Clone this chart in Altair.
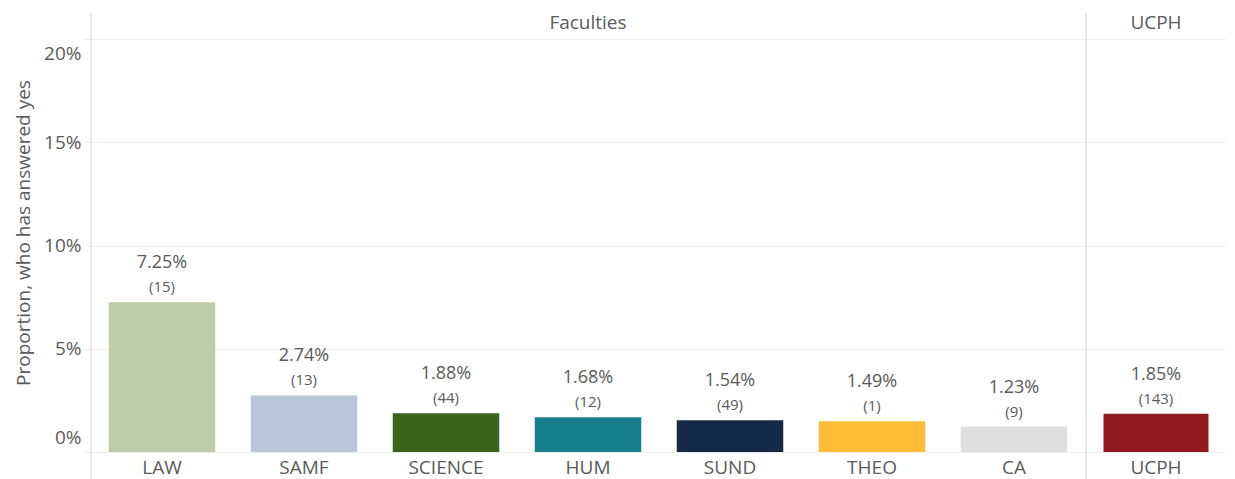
import altair as alt
import pandas as pd

# ---- data ----
faculties = ["LAW", "SAMF", "SCIENCE", "HUM", "SUND", "THEO", "CA"]
faculty_share = [0.0725, 0.0274, 0.0188, 0.0168, 0.0154, 0.0149, 0.0123]
faculty_count = [15, 13, 44, 12, 49, 1, 9]
faculty_colors = ["#BFCAA8", "#B8C6D8", "#3A631C", "#187F8C", "#142848", "#FFBC35", "#DFDEDF"]

total_group = ["UCPH"]
total_share = [0.0185]
total_count = [143]
total_colors = ["#901A1E"]

y_ticks = [0, 0.05, 0.10, 0.15, 0.20]
panel_titles = ["Faculties", "UCPH"]
y_title = "Proportion, who has answered yes"

# ---- style ----
FONT = "Open Sans"
TEXT = "#5a5a5a"
GRID = "#eeeeee"
LINE = "#d2d2d2"
H = 439
STEP = 142
W_FAC = STEP * len(faculties)
W_TOT = 140
Y_MAX = 0.20 * 439 / 413

df_fac = pd.DataFrame({
    "group": faculties,
    "share": faculty_share,
    "count_label": [f"({c})" for c in faculty_count],
    "color": faculty_colors,
})
df_tot = pd.DataFrame({
    "group": total_group,
    "share": total_share,
    "count_label": [f"({c})" for c in total_count],
    "color": total_colors,
})

yscale = alt.Scale(domain=[0, Y_MAX], nice=False, zero=True)


def panel(df, order, width, title, show_axis):
    xaxis = alt.Axis(title=None, labelAngle=0, ticks=False, domain=False, labelPadding=6,
                     labelFontSize=19, labelColor=TEXT, labelFont=FONT)
    if show_axis:
        yaxis = alt.Axis(values=y_ticks, format=".0%", title=y_title, grid=True, gridColor=GRID,
                         tickColor=GRID, tickSize=7, domain=False, labelPadding=3,
                         labelFontSize=19, labelColor=TEXT, labelFont=FONT,
                         labelFlush=30, labelFlushOffset=-5,
                         titleFontSize=19, titleColor=TEXT, titleFont=FONT,
                         titleFontWeight="normal", titlePadding=10)
    else:
        yaxis = alt.Axis(values=y_ticks, title=None, grid=True, gridColor=GRID, ticks=False,
                         labels=False, domain=False)
    base = alt.Chart(df).encode(
        x=alt.X("group:N", sort=order,
                scale=alt.Scale(paddingInner=0.25, paddingOuter=0.125), axis=xaxis),
        y=alt.Y("share:Q", scale=yscale, axis=yaxis),
    )
    bars = base.mark_bar().encode(color=alt.Color("color:N", scale=None, legend=None))
    pct = base.mark_text(dy=-39, fontSize=18, color=TEXT, font=FONT).encode(
        text=alt.Text("share:Q", format=".2%"))
    cnt = base.mark_text(dy=-15, fontSize=15, color=TEXT, font=FONT).encode(
        text="count_label:N")
    header = alt.Chart(pd.DataFrame({"h": [title]})).mark_text(
        fontSize=19, color=TEXT, font=FONT, baseline="middle").encode(
        text="h:N", x=alt.value(width / 2), y=alt.value(10))
    vline = alt.Chart(pd.DataFrame({"h": [0]})).mark_rule(color=LINE, strokeWidth=1).encode(
        x=alt.value(0), y=alt.value(0), y2=alt.value(H + 40))
    return alt.layer(bars, pct, cnt, header, vline).properties(width=width, height=H)


left = panel(df_fac, faculties, W_FAC, panel_titles[0], True)
right = panel(df_tot, total_group, W_TOT, panel_titles[1], False)

chart = alt.hconcat(left, right, spacing=0).properties(
    padding={"left": 6, "top": 4, "right": 0, "bottom": 0}
).configure(font=FONT).configure_view(stroke=None)

chart.save("out.html", embed_options={"renderer": "svg", "actions": False})
